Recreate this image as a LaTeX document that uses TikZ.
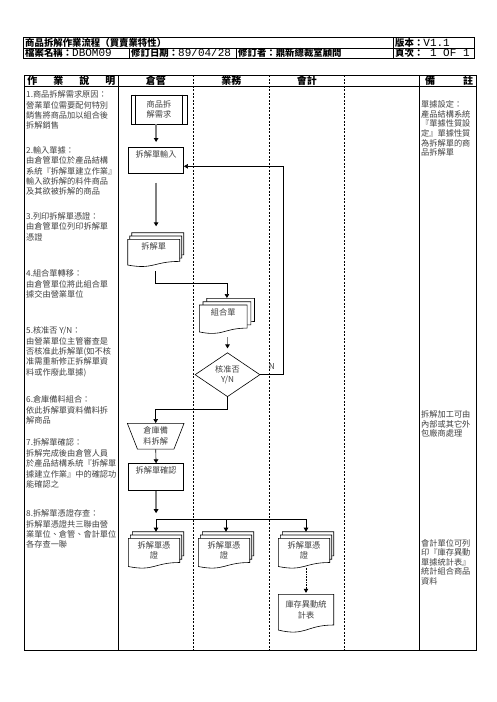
\documentclass[tikz,border=0pt]{standalone}
\usepackage{fontspec}
\setmainfont{Noto Sans CJK TC}
\newfontfamily\monofont{Liberation Mono}
\usetikzlibrary{shapes.geometric,arrows.meta,calc,backgrounds}

% 文件形狀 (node, dx, dy)
\newcommand{\docpage}[3]{%
  \filldraw[docline] let \p1=(#1.north west), \p2=(#1.south east), \n1={\y1-\y2} in
    (\x1+#2,\y1+#3) -- (\x2+#2,\y1+#3) -- (\x2+#2,\y2+#3)
    .. controls ({0.5*\x1+0.5*\x2+#2},\y2+#3) and ({0.5*\x1+0.5*\x2+#2},{\y2+#3-0.38*\n1}) .. (\x1+#2,{\y2+#3-0.165*\n1}) -- cycle;}
% 多頁文件
\newcommand{\multidoc}[3]{%
  \docpage{#1}{2*#2pt}{2*#3pt}\docpage{#1}{#2pt}{#3pt}\docpage{#1}{0pt}{0pt}}

\begin{document}
\begin{tikzpicture}[x=1pt,y=-1pt,
    head/.style={anchor=west,inner sep=0pt,font=\fontsize{9.4}{10}\selectfont\bfseries},
    colhead/.style={inner sep=0pt,align=left,font=\fontsize{10}{11}\selectfont\bfseries},
    txt/.style={anchor=north west,inner sep=0pt,align=left,text=black!75,font=\fontsize{8.2}{10.4}\selectfont},
    note/.style={txt,font=\fontsize{8.2}{9.6}\selectfont},
    lane/.style={line width=0.6pt,dash pattern=on 2pt off 1.5pt},
    frame/.style={line width=0.9pt},
    procbox/.style={draw,line width=0.6pt,anchor=north west,minimum width=55pt,inner xsep=1pt,inner ysep=2pt,
      text height=8pt,text depth=14pt,text=black!75,font=\fontsize{8.2}{10}\selectfont},
    docnode/.style={anchor=north west,inner sep=0pt,align=center,text=black!75,font=\fontsize{8.2}{10.5}\selectfont},
    docline/.style={draw=black,fill=white,line width=0.6pt},
    blackline/.style={draw=black,line width=0.6pt},
    blackflow/.style={blackline,-{Triangle[width=4.5pt,length=4pt]}},
    grayflow/.style={draw=black!50,line width=1.3pt,-{Triangle[color=black,width=4.5pt,length=4pt]}},
    nlabel/.style={above=4pt,inner sep=1pt,text=black!75,font=\fontsize{8.2}{9}\selectfont}]

\useasboundingbox (0,0) rectangle (496,702);

% 表頭
\draw[frame] (23.3,37.3) rectangle (474.7,58.7);
\draw[frame] (23.3,48) -- (474.7,48);
\draw[frame] (393,37.3) -- (393,58.7);
\draw[frame] (129,48) -- (129,58.7) (236,48) -- (236,58.7);
\node[head] (title) at (25,42.7) {商品拆解作業流程（買賣業特性）};
\node[head] (ver) at (395,42.7) {版本：{\monofont\mdseries\fontsize{11}{11}\selectfont V1.1}};
\node[head] (fname) at (25,53.4) {檔案名稱：{\monofont\mdseries\fontsize{11}{11}\selectfont DBOM09}};
\node[head] (rdate) at (131,53.4) {修訂日期：{\monofont\mdseries\fontsize{11}{11}\selectfont 89/04/28}};
\node[head] (rby) at (238,53.4) {修訂者：鼎新總裁室顧問};
\node[head] (page) at (395,53.4) {頁次：{\monofont\mdseries\fontsize{11}{11}\selectfont\ 1 OF 1}};

% 流程表格
\draw[frame] (24.3,75) rectangle (476.7,650.3);
\draw[frame] (24.3,86) -- (476.7,86);
\draw[frame] (118.3,75) -- (118.3,650.3) (419.3,75) -- (419.3,650.3);
\foreach \x in {193.3,269.3,344.3}
  \draw[lane] (\x,75) -- (\x,650.3);

\node[colhead,text width=88pt] (zysm) at (71.3,80.5) {作\hfill 業\hfill 說\hfill 明};
\node[colhead] (cg) at (155.8,80.5) {倉管};
\node[colhead] (yw) at (231.3,80.5) {業務};
\node[colhead] (kj) at (306.8,80.5) {會計};
\node[colhead,text width=48pt] (bz) at (449,80.5) {備\hfill 註};

% 作業說明
\node[txt] (s1) at (26,90.5) {1.商品拆解需求原因：\\營業單位需要配何特別\\銷售將商品加以組合後\\拆解銷售};
\node[txt] (s2) at (26,146.2) {2.輸入單據：\\由倉管單位於產品結構\\系統『拆解單建立作業』\\輸入欲拆解的料件商品\\及其欲被拆解的商品};
\node[txt] (s3) at (26,212.2) {3.列印拆解單憑證：\\由倉管單位列印拆解單\\憑證};
\node[txt] (s4) at (26,269.8) {4.組合單轉移：\\由倉管單位將此組合單\\據交由營業單位};
\node[txt] (s5) at (26,326.5) {5.核准否 Y/N：\\由營業單位主管審查是\\否核准此拆解單(如不核\\准需重新修正拆解單資\\料或作廢此單據)};
\node[txt] (s6) at (26,395.5) {6.倉庫備料組合：\\依此拆解單資料備料拆\\解商品};
\node[txt] (s7) at (26,438.8) {7.拆解單確認：\\拆解完成後由倉管人員\\於產品結構系統『拆解單\\據建立作業』中的確認功\\能確認之};
\node[txt] (s8) at (26,509.5) {8.拆解單憑證存查：\\拆解單憑證共三聯由營\\業單位、倉管、會計單位\\各存查一聯};

% 流程圖
\node[draw,line width=0.6pt,minimum width=56pt,minimum height=29pt,inner sep=0pt,align=center,
  text=black!75,font=\fontsize{8.2}{10.3}\selectfont] (spxq) at (159,109.5) {商品拆\\解需求};
\draw[line width=0.6pt] ([xshift=5pt]spxq.north west) -- ([xshift=5pt]spxq.south west);
\draw[line width=0.6pt] ([xshift=-5pt]spxq.north east) -- ([xshift=-5pt]spxq.south east);
\node[procbox] (cjsr) at (128.3,147) {拆解單輸入};
\node[docnode,minimum width=51.6pt,minimum height=21.7pt,text depth=9pt] (cjd) at (127.7,239.3) {拆解單};
\node[docnode,minimum width=47.4pt,minimum height=22.7pt,text depth=9pt] (zhd) at (199.3,305) {組合單};
\node[diamond,draw,line width=0.6pt,minimum width=65pt,minimum height=44pt,inner sep=0pt,align=center,
  text=black!75,font=\fontsize{8.2}{10}\selectfont] (hzf) at (227.5,374.7) {核准否\\Y/N};
\node[trapezium,draw,line width=0.6pt,shape border rotate=180,trapezium left angle=70,trapezium right angle=70,
  trapezium stretches=true,minimum width=56.7pt,minimum height=25.7pt,inner sep=0pt,align=center,
  text=black!75,font=\fontsize{8.2}{11}\selectfont] (cllj) at (155.7,436.2) {倉庫備\\料拆解};
\node[procbox,text depth=15pt] (cjqr) at (128.3,463.3) {拆解單確認};
\node[docnode,minimum width=51pt,minimum height=23.8pt] (pz1) at (128.3,538.3) {拆解單憑\\證};
\node[docnode,minimum width=51pt,minimum height=23.8pt] (pz2) at (198.3,538.3) {拆解單憑\\證};
\node[docnode,minimum width=51pt,minimum height=23.8pt] (pz3) at (278.3,538.3) {拆解單憑\\證};
\node[docnode,minimum width=55pt,minimum height=30.3pt] (kcb) at (278.3,594.3) {庫存異動統\\計表};

\begin{pgfonlayer}{background}
  \multidoc{cjd}{2}{3.3}
  \multidoc{zhd}{3.7}{3.3}
  \multidoc{pz1}{2}{3.3}
  \multidoc{pz2}{2}{3.3}
  \multidoc{pz3}{2}{3.3}
  \docpage{kcb}{0pt}{0pt}
\end{pgfonlayer}

% 連接線
\draw[grayflow,shorten >=5pt] (cjsr.north |- spxq.south) -- (cjsr.north);
\draw[grayflow,shorten <=9pt,shorten >=13pt] (cjsr.south) -- (cjsr.south |- cjd.north);
\draw[blackflow,shorten <=10pt] ([xshift=2pt]cjd.south) -- ++(0,22) -| ([xshift=3.7pt,yshift=7pt]zhd.north);
\draw[grayflow,shorten <=9pt,shorten >=4pt] (hzf.north |- zhd.south) -- (hzf.north);
\draw[blackflow] (hzf.east) -- node[nlabel] (nn) {N} ++(23,0) |- ([yshift=-6pt]cjsr.east);
\draw[blackflow] (hzf.south) -- ++(0,12.6) -| (cllj.north);
\draw[blackflow] (cllj.south) -- (cjqr.north);

\path (cjqr.south) ++(0,28.3) coordinate (fz);
\draw[grayflow,shorten >=6pt] (cjqr.south) -- (fz);
\draw[blackline] (pz1.north |- fz) ++(2,0) -- ([xshift=2pt]pz3.north |- fz);
\foreach \p in {pz1,pz2,pz3}
  \draw[blackflow] (\p.north |- fz) ++(2,0) -- ([xshift=2pt,yshift=6.6pt]\p.north);
\draw[blackflow,densely dotted,shorten <=5pt,shorten >=1.5pt] (kcb.north |- pz3.south) -- (kcb.north);

% 備註
\node[note] (bz1) at (421,100.5) {單據設定：\\產品結構系統\\『單據性質設\\定』單據性質\\為拆解單的商\\品拆解單};
\node[note] (bz2) at (421,410.5) {拆解加工可由\\內部或其它外\\包廠商處理};
\node[note] (bz3) at (421,539) {會計單位可列\\印『庫存異動\\單據統計表』\\統計組合商品\\資料};
\end{tikzpicture}
\end{document}
